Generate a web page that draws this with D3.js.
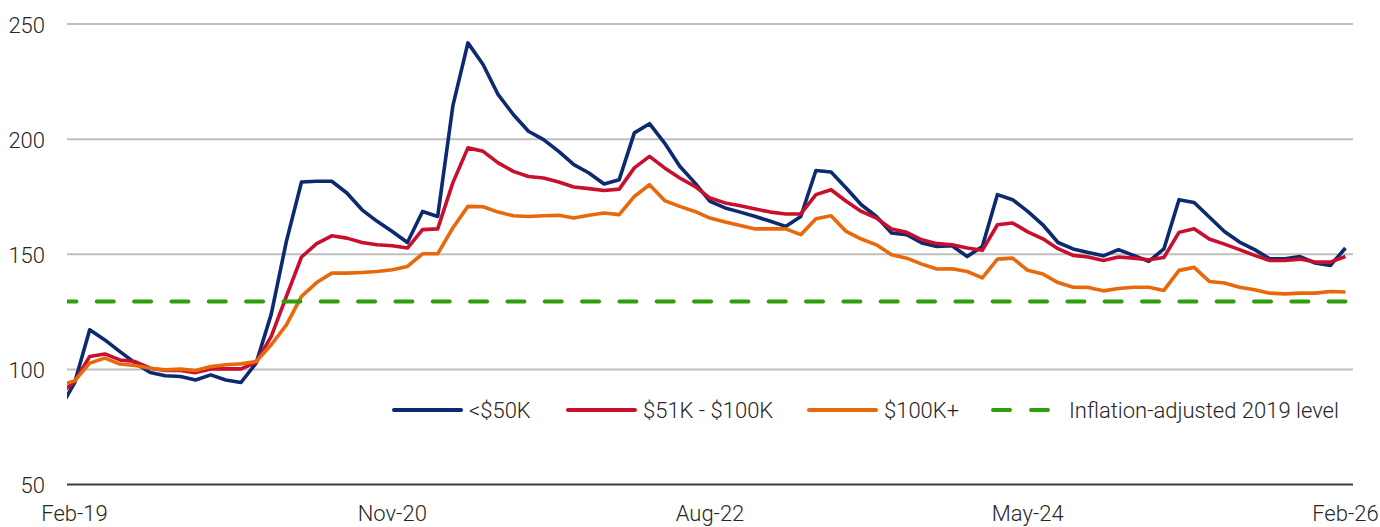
<!DOCTYPE html>
<html>
<head>
<meta charset="utf-8">
<script src="https://cdn.jsdelivr.net/npm/d3@7"></script>
<style>
  html, body { margin: 0; padding: 0; background: #ffffff; }
  svg { display: block; }
  text { font-family: Roboto, "Liberation Sans", sans-serif; font-weight: 300; fill: #262626; }
</style>
</head>
<body>
<svg id="chart" width="1380" height="527"></svg>
<script>
// ---- Data ----
// Monthly, Jan-19 .. Feb-26 (Jan-19 sits just left of the plot area and is clipped)
const startMonth = new Date(2019, 0, 1);
const endMonthExclusive = new Date(2026, 2, 1);
const months = d3.timeMonth.range(startMonth, endMonthExclusive);

const under50K = [82.6, 94.1, 117.2, 112.8, 107.7, 102.8, 98.6, 97.2, 96.9, 95.4, 97.6, 95.4,
  94.3, 102.7, 124, 155.6, 181.4, 181.7, 181.7, 176.6, 169.3, 164.3, 159.9, 155.1,
  168.6, 166.4, 214.3, 241.8, 232.4, 219.3, 210.7, 203.4, 199.8, 194.7, 188.9, 185.3,
  180.5, 182.4, 202.7, 206.7, 198.3, 188.2, 181, 173, 170.1, 168.3, 166.4, 164.3,
  162.1, 166.4, 186.4, 185.7, 178.8, 171.5, 166.4, 159.2, 158.5, 154.9, 153.4, 153.7,
  149, 153.4, 175.9, 173.7, 168.6, 162.8, 155.1, 152.3, 150.8, 149.3, 152, 149.5,
  146.9, 152.3, 173.7, 172.5, 166.2, 159.9, 155.3, 152, 148, 148, 149, 146.2,
  145.1, 152.7];

const from51to100K = [89, 94.7, 105.6, 106.7, 104.1, 103.4, 100.5, 99.5, 99.5, 98.6, 100.2, 100.2,
  100.2, 103, 114.3, 131.7, 148.8, 154.6, 158, 157, 155.1, 154.1, 153.7, 152.7,
  160.7, 161, 181, 196.2, 194.7, 189.7, 186, 183.8, 183.1, 181.4, 179.2, 178.5,
  177.7, 178.3, 187.5, 192.5, 187.5, 183.1, 179.5, 174.4, 172.3, 171.1, 169.7, 168.3,
  167.5, 167.5, 175.9, 178, 173, 168.6, 165.7, 161, 159.5, 156.3, 154.6, 154.1,
  152.7, 151.7, 162.8, 163.6, 159.7, 156.7, 152.4, 149.5, 148.8, 147.3, 148.8, 148.3,
  147.6, 148.6, 159.5, 161.1, 156.6, 154.4, 152, 149.5, 147.3, 147.3, 147.9, 146.6,
  146.6, 149];

const over100K = [93.1, 95.0, 102.7, 104.9, 102.3, 101.7, 100.5, 99.8, 100.1, 99.5, 101.2, 102,
  102.4, 103.4, 110.7, 119.3, 131.7, 137.7, 141.8, 141.8, 142.1, 142.5, 143.3, 144.7,
  150.2, 150.2, 161.4, 170.8, 170.6, 168.3, 166.7, 166.4, 166.7, 166.9, 165.7, 166.9,
  167.9, 167.2, 175.1, 180.2, 173.3, 170.8, 168.6, 165.7, 164, 162.5, 161, 161,
  161, 158.5, 165.4, 166.7, 159.9, 156.6, 154.1, 149.8, 148.3, 145.7, 143.6, 143.7,
  142.5, 139.7, 147.9, 148.3, 143, 141.4, 137.7, 135.7, 135.6, 134.1, 135.1, 135.7,
  135.7, 134.3, 143, 144.3, 138.2, 137.5, 135.7, 134.6, 133.1, 132.8, 133.1, 133.1,
  133.8, 133.6];

const inflationAdjusted2019 = 129.5;

const xTickLabels = ["Feb-19", "Nov-20", "Aug-22", "May-24", "Feb-26"];
const yTicks = [50, 100, 150, 200, 250];

const seriesNames = ["<$50K", "$51K - $100K", "$100K+", "Inflation-adjusted 2019 level"];
const seriesColors = ["#0b2a6f", "#c8102e", "#e8690b", "#2e9e0a"];

// ---- Layout ----
const W = 1380, H = 527;
const plot = { left: 67, right: 1353, top: 24, bottom: 484.5 };
const fontSize = "22px";
const legendStarts = [394, 568, 809, 993];
const fmt = d3.timeFormat("%b-%y");
const labels = months.map(fmt);

const svg = d3.select("#chart");

// x: month index; Feb-19 (index 1) .. Feb-26 (index 85) occupy 85 bands across the plot
const x = d3.scaleLinear().domain([0.5, months.length - 0.5]).range([plot.left, plot.right]);
const y = d3.scaleLinear().domain([50, 250]).range([plot.bottom, plot.top]);

svg.append("defs").append("clipPath").attr("id", "plotClip")
  .append("rect")
  .attr("x", plot.left).attr("y", 0)
  .attr("width", plot.right - plot.left).attr("height", H);

// y axis labels
const yAxis = d3.axisLeft(y).tickValues(yTicks).tickSize(0).tickPadding(22);
const gy = svg.append("g").attr("transform", `translate(${plot.left},1)`).call(yAxis);
gy.select(".domain").remove();
gy.selectAll("text")
  .style("font-size", fontSize)
  .style("font-family", "Roboto, 'Liberation Sans', sans-serif")
  .style("font-weight", "300")
  .attr("fill", "#262626");

// gridlines
svg.append("g").selectAll("line")
  .data(yTicks.filter(d => d !== 50))
  .join("line")
  .attr("x1", plot.left).attr("x2", plot.right)
  .attr("y1", d => y(d)).attr("y2", d => y(d))
  .attr("stroke", "#bfbfbf").attr("stroke-width", 2);

// x axis baseline
svg.append("line")
  .attr("x1", plot.left).attr("x2", plot.right)
  .attr("y1", y(50)).attr("y2", y(50))
  .attr("stroke", "#3a3a3a").attr("stroke-width", 2.2);

// x tick labels
const tickIdx = xTickLabels.map(l => labels.indexOf(l));
svg.append("g").selectAll("text")
  .data(tickIdx)
  .join("text")
  .attr("x", d => x(d))
  .attr("y", 521)
  .attr("text-anchor", "middle")
  .style("font-size", fontSize)
  .text(d => labels[d]);

// series
const line = d3.line()
  .x((d, i) => x(i))
  .y(d => y(d));

const g = svg.append("g").attr("clip-path", "url(#plotClip)");
[under50K, from51to100K, over100K].forEach((s, k) => {
  g.append("path")
    .datum(s)
    .attr("d", line)
    .attr("fill", "none")
    .attr("stroke", seriesColors[k])
    .attr("stroke-width", 3.6)
    .attr("stroke-linejoin", "round");
});

// inflation-adjusted dashed line
g.append("path")
  .datum(months.map(() => inflationAdjusted2019))
  .attr("d", line)
  .attr("fill", "none")
  .attr("stroke", seriesColors[3])
  .attr("stroke-width", 4)
  .attr("stroke-linecap", "round")
  .attr("stroke-dasharray", "17,20.33");

// legend
const legend = svg.append("g");
const legendY = 410;
seriesNames.forEach((name, k) => {
  const dashed = k === 3;
  const lx = legendStarts[k];
  const len = dashed ? 55 : 67;
  legend.append("line")
    .attr("x1", lx).attr("x2", lx + len)
    .attr("y1", legendY).attr("y2", legendY)
    .attr("stroke", seriesColors[k])
    .attr("stroke-width", 4)
    .attr("stroke-linecap", "round")
    .attr("stroke-dasharray", dashed ? "17,21" : null);
  legend.append("text")
    .attr("x", lx + len + (dashed ? 21 : 8))
    .attr("y", legendY)
    .attr("dy", "0.36em")
    .style("font-size", fontSize)
    .text(name);
});
</script>
</body>
</html>
